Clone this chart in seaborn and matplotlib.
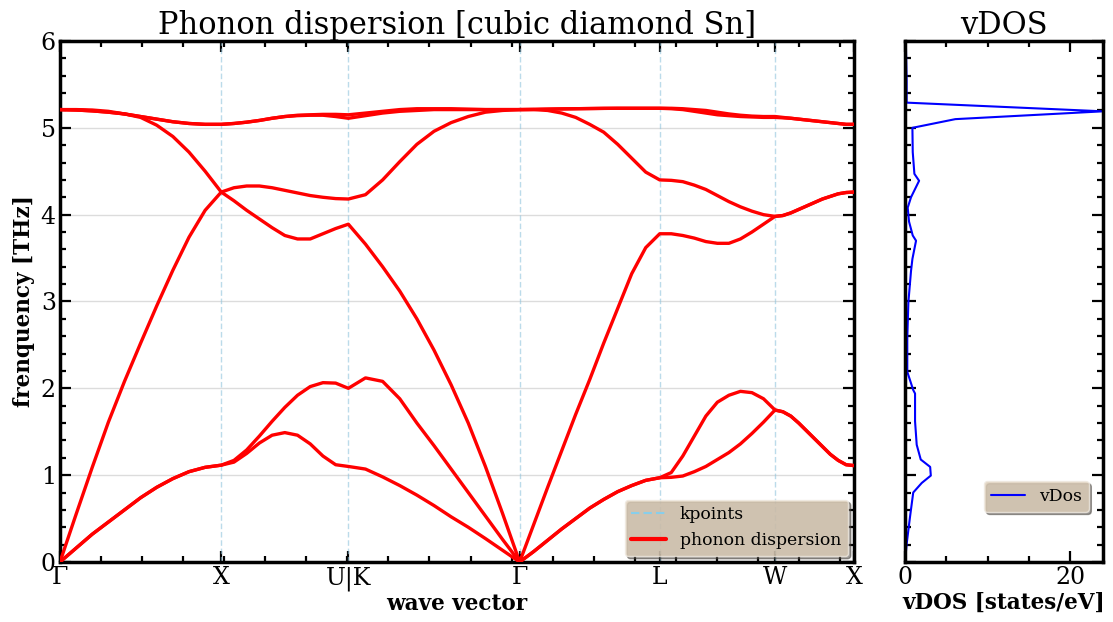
import numpy as np
import pandas as pd
import matplotlib
matplotlib.use("Agg")
import matplotlib.pyplot as plt
from matplotlib.ticker import MultipleLocator
from matplotlib.lines import Line2D
import seaborn as sns

# high-symmetry path of the fcc Brillouin zone
kpoint_labels = ["Γ", "X", "U|K", "Γ", "L", "W", "X"]
kpoint_pos = [0.0, 0.982, 1.756, 2.799, 3.652, 4.354, 4.835]

# phonon branches (THz), 11 evenly spaced samples on every path segment
seg_gamma_x = [
    [0.00, 0.16, 0.32, 0.46, 0.60, 0.74, 0.86, 0.96, 1.04, 1.09, 1.115],
    [0.00, 0.16, 0.32, 0.46, 0.60, 0.74, 0.86, 0.96, 1.04, 1.09, 1.115],
    [0.00, 0.55, 1.09, 1.61, 2.08, 2.52, 2.95, 3.36, 3.74, 4.05, 4.26],
    [5.21, 5.21, 5.205, 5.19, 5.16, 5.12, 5.03, 4.90, 4.72, 4.50, 4.26],
    [5.21, 5.205, 5.195, 5.18, 5.16, 5.13, 5.10, 5.07, 5.05, 5.04, 5.04],
    [5.21, 5.205, 5.195, 5.18, 5.16, 5.13, 5.10, 5.07, 5.05, 5.04, 5.04],
]
seg_x_u = [
    [1.115, 1.15, 1.25, 1.37, 1.46, 1.49, 1.46, 1.36, 1.22, 1.12, 1.10],
    [1.115, 1.17, 1.29, 1.45, 1.62, 1.78, 1.92, 2.02, 2.065, 2.06, 2.00],
    [4.26, 4.16, 4.05, 3.95, 3.85, 3.76, 3.72, 3.72, 3.78, 3.84, 3.89],
    [4.26, 4.31, 4.33, 4.33, 4.31, 4.28, 4.25, 4.22, 4.20, 4.185, 4.18],
    [5.04, 5.05, 5.065, 5.085, 5.11, 5.13, 5.14, 5.145, 5.145, 5.13, 5.11],
    [5.04, 5.05, 5.065, 5.085, 5.11, 5.13, 5.145, 5.15, 5.155, 5.155, 5.15],
]
seg_k_gamma = [
    [1.10, 1.07, 0.98, 0.88, 0.77, 0.65, 0.52, 0.40, 0.27, 0.135, 0.00],
    [2.00, 2.12, 2.08, 1.88, 1.60, 1.34, 1.07, 0.80, 0.53, 0.26, 0.00],
    [3.89, 3.66, 3.40, 3.12, 2.80, 2.44, 2.04, 1.60, 1.10, 0.56, 0.00],
    [4.18, 4.23, 4.40, 4.61, 4.81, 4.96, 5.06, 5.13, 5.18, 5.20, 5.21],
    [5.11, 5.14, 5.17, 5.19, 5.20, 5.21, 5.21, 5.21, 5.21, 5.21, 5.21],
    [5.15, 5.17, 5.19, 5.21, 5.22, 5.22, 5.22, 5.215, 5.21, 5.21, 5.21],
]
seg_gamma_l = [
    [0.00, 0.12, 0.25, 0.38, 0.50, 0.62, 0.72, 0.81, 0.88, 0.94, 0.97],
    [0.00, 0.12, 0.25, 0.38, 0.50, 0.62, 0.72, 0.81, 0.88, 0.94, 0.97],
    [0.00, 0.43, 0.86, 1.28, 1.70, 2.10, 2.52, 2.92, 3.32, 3.62, 3.78],
    [5.21, 5.21, 5.20, 5.17, 5.12, 5.04, 4.95, 4.81, 4.65, 4.49, 4.40],
    [5.21, 5.212, 5.215, 5.218, 5.22, 5.222, 5.224, 5.225, 5.225, 5.225, 5.225],
    [5.21, 5.212, 5.215, 5.218, 5.22, 5.222, 5.224, 5.225, 5.225, 5.225, 5.225],
]
seg_l_w = [
    [0.97, 0.975, 0.99, 1.04, 1.10, 1.18, 1.26, 1.36, 1.48, 1.61, 1.75],
    [0.97, 1.03, 1.22, 1.45, 1.68, 1.84, 1.92, 1.965, 1.95, 1.88, 1.75],
    [3.78, 3.78, 3.76, 3.73, 3.69, 3.67, 3.67, 3.72, 3.80, 3.89, 3.98],
    [4.40, 4.395, 4.38, 4.34, 4.29, 4.22, 4.15, 4.09, 4.04, 4.00, 3.98],
    [5.225, 5.22, 5.21, 5.19, 5.17, 5.15, 5.14, 5.13, 5.125, 5.12, 5.12],
    [5.225, 5.225, 5.22, 5.21, 5.20, 5.18, 5.16, 5.145, 5.135, 5.13, 5.13],
]
seg_w_x = [
    [1.75, 1.73, 1.68, 1.60, 1.51, 1.42, 1.33, 1.24, 1.17, 1.12, 1.11],
    [1.75, 1.73, 1.68, 1.60, 1.51, 1.42, 1.33, 1.24, 1.17, 1.12, 1.11],
    [3.98, 3.99, 4.02, 4.06, 4.10, 4.14, 4.18, 4.21, 4.24, 4.255, 4.26],
    [3.98, 3.99, 4.02, 4.06, 4.10, 4.14, 4.18, 4.21, 4.24, 4.255, 4.26],
    [5.12, 5.115, 5.11, 5.10, 5.09, 5.08, 5.07, 5.06, 5.05, 5.04, 5.04],
    [5.13, 5.12, 5.11, 5.10, 5.09, 5.08, 5.07, 5.06, 5.05, 5.04, 5.04],
]
segments = [seg_gamma_x, seg_x_u, seg_k_gamma, seg_gamma_l, seg_l_w, seg_w_x]

# vibrational density of states
dos_freq = [0.00, 0.205, 0.52, 0.80, 0.91, 0.995, 1.095, 1.18, 1.35, 1.62,
            1.94, 1.98, 2.19, 2.58, 2.99, 3.35, 3.49, 3.70, 3.76, 3.92,
            4.08, 4.20, 4.39, 4.47, 4.72, 5.00, 5.10, 5.19, 5.29, 5.54, 6.00]
dos_states = [0.00, 0.20, 0.61, 1.00, 2.03, 3.13, 3.05, 1.91, 1.42, 1.22,
              1.22, 1.00, 0.28, 0.28, 0.41, 0.73, 0.90, 1.34, 0.94, 0.49,
              0.33, 0.73, 1.71, 1.14, 0.94, 0.90, 6.10, 24.0, 0.20, 0.20, 0.10]

# assemble a long table: one row per (branch, k) sample
rows = []
for band in range(6):
    ks, fs = [], []
    for i, seg in enumerate(segments):
        k_seg = np.linspace(kpoint_pos[i], kpoint_pos[i + 1], len(seg[band]))
        start = 0 if i == 0 else 1
        ks.extend(k_seg[start:])
        fs.extend(seg[band][start:])
    rows.append(pd.DataFrame({"k": ks, "freq": fs, "band": band}))
bands = pd.concat(rows, ignore_index=True)

sns.set_style("ticks")
plt.rcParams["font.family"] = ["DejaVu Serif"]
plt.rcParams["mathtext.fontset"] = "dejavuserif"
plt.rcParams["text.color"] = "black"
plt.rcParams["axes.labelcolor"] = "black"
plt.rcParams["xtick.color"] = "black"
plt.rcParams["ytick.color"] = "black"

fig = plt.figure(figsize=(11.13, 6.22), dpi=100)
ax1 = fig.add_axes([0.0539, 0.0965, 0.7134, 0.8376])
ax2 = fig.add_axes([0.8131, 0.0965, 0.1780, 0.8376])

legend_style = dict(frameon=True, fancybox=True, shadow=True,
                    facecolor="#DCCCB6", edgecolor="#efe9e0", framealpha=0.8,
                    fontsize=12.4)

# dispersion panel
for p in kpoint_pos:
    ax1.axvline(p, color="#8fc3dc", ls=(0, (4, 2)), lw=1.0, alpha=0.6, zorder=1)
sns.lineplot(data=bands, x="k", y="freq", units="band", estimator=None,
             sort=False, color="red", lw=2.4, ax=ax1, legend=False, zorder=3)

ax1.set_xlim(kpoint_pos[0], kpoint_pos[-1])
ax1.set_ylim(0, 6)
ax1.set_xticks(kpoint_pos, kpoint_labels)
ax1.xaxis.set_minor_locator(MultipleLocator(0.25))
ax1.yaxis.set_major_locator(MultipleLocator(1))
ax1.yaxis.set_minor_locator(MultipleLocator(0.2))
ax1.grid(axis="y", which="major", color="#dcdcdc", lw=1.0)
ax1.set_axisbelow(True)
ax1.set_title("Phonon dispersion [cubic diamond Sn]", fontsize=22, pad=4)
ax1.set_xlabel("wave vector", fontsize=15.5, fontweight="bold", labelpad=2)
ax1.set_ylabel("frenquency [THz]", fontsize=15.5, fontweight="bold", labelpad=4)

kp_handle = Line2D([], [], color="skyblue", ls=(0, (4, 2)), lw=1.5, label="kpoints")
ph_handle = Line2D([], [], color="red", lw=3, label="phonon dispersion")
ax1.legend(handles=[kp_handle, ph_handle], loc="lower right",
           borderaxespad=0.35, **legend_style)

# density of states panel
sns.lineplot(x=dos_states, y=dos_freq, estimator=None, sort=False,
             color="blue", lw=1.5, ax=ax2, legend=False)
ax2.set_xlim(0, 24)
ax2.set_ylim(0, 6)
ax2.xaxis.set_major_locator(MultipleLocator(20))
ax2.xaxis.set_minor_locator(MultipleLocator(5))
ax2.yaxis.set_major_locator(MultipleLocator(1))
ax2.yaxis.set_minor_locator(MultipleLocator(0.2))
ax2.set_title("vDOS", fontsize=22, pad=4)
ax2.set_xlabel("vDOS [states/eV]", fontsize=15.5, fontweight="bold", labelpad=2)
ax2.set_ylabel("")
ax2.tick_params(labelleft=False)
dos_handle = Line2D([], [], color="blue", lw=1.5, label="vDos")
ax2.legend(handles=[dos_handle], loc="lower right", bbox_to_anchor=(0.97, 0.08),
           **legend_style)

for ax in (ax1, ax2):
    for sp in ax.spines.values():
        sp.set_visible(True)
        sp.set_linewidth(2.5)
        sp.set_color("black")
    ax.tick_params(which="both", direction="in", top=True, right=True,
                   bottom=True, left=True, width=1.6, colors="black")
    ax.tick_params(which="major", length=8, labelsize=17, pad=3)
    ax.tick_params(which="minor", length=4.5)

fig.savefig("out.png", dpi=100)
